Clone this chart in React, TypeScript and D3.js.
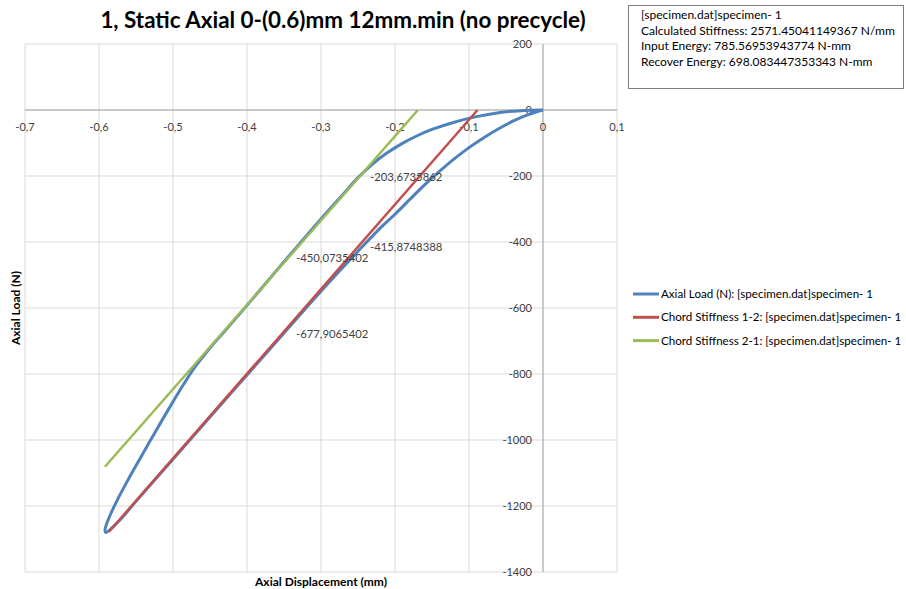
import React, { useEffect, useRef } from 'react'
import * as d3 from 'd3'

// axis ticks
const xTickValues = [-0.7, -0.6, -0.5, -0.4, -0.3, -0.2, -0.1, 0, 0.1]
const yTickValues = [200, 0, -200, -400, -600, -800, -1000, -1200, -1400]

// blue hysteresis loop, loading branch (0 -> tip)
const loadDisp = [0, -0.02, -0.04, -0.06, -0.08, -0.1, -0.12, -0.14, -0.16, -0.18, -0.2, -0.22, -0.25, -0.3, -0.35, -0.4, -0.45, -0.5, -0.55, -0.575, -0.591]
const loadForce = [0, -14, -33, -57, -84, -114, -148, -186, -227, -271, -316, -358, -428, -549, -676, -803, -930, -1058, -1186, -1250, -1280]

// unloading branch (tip -> 0)
const unloadDisp = [-0.592, -0.59, -0.585, -0.576, -0.563, -0.545, -0.522, -0.5, -0.485, -0.47, -0.455, -0.44, -0.43, -0.4, -0.35, -0.3, -0.27, -0.25, -0.23, -0.21, -0.19, -0.17, -0.15, -0.12, -0.09, -0.06, -0.03, 0]
const unloadForce = [-1274, -1256, -1228, -1185, -1130, -1058, -968, -884, -829, -778, -735, -695, -670, -592, -460, -330, -255, -205, -163, -129, -101, -78, -59, -37, -20, -8, -2, 0]

// chord stiffness lines (end points)
const chord12Disp = [-0.0885, -0.5865]
const chord12Force = [0, -1278]
const chord21Disp = [-0.169, -0.592]
const chord21Force = [0, -1081]

// data labels on chord lines
const labelDisp = [-0.25, -0.25, -0.35, -0.35]
const labelForce = [-203.6735862, -415.8748388, -450.0735402, -677.9065402]
const labelText = ['-203,6735862', '-415,8748388', '-450,0735402', '-677,9065402']

const infoLines = [
  '[specimen.dat]specimen- 1',
  'Calculated Stiffness: 2571.45041149367 N/mm',
  'Input Energy: 785.56953943774 N-mm',
  'Recover Energy: 698.083447353343 N-mm',
]

const legendNames = [
  'Axial Load (N): [specimen.dat]specimen- 1',
  'Chord Stiffness 1-2: [specimen.dat]specimen- 1',
  'Chord Stiffness 2-1: [specimen.dat]specimen- 1',
]
const colors = ['#4F81BD', '#C0504D', '#9BBB59']

const App = () => {
  const svgRef = useRef<SVGSVGElement>(null)
  const width = 906
  const height = 589
  const font = 'Lato, "Noto Sans", sans-serif'

  const drawChart = () => {
    const svg = d3.select(svgRef.current)
    svg.selectAll('*').remove()
    svg.style('font-family', font)

    const x = d3.scaleLinear().domain([-0.7, 0.1]).range([25, 617])
    const y = d3.scaleLinear().domain([-1400, 200]).range([572, 44])
    const comma = (v: number) => String(v).replace('.', ',')

    // title
    svg
      .append('text')
      .attr('x', 343)
      .attr('y', 28)
      .attr('text-anchor', 'middle')
      .attr('font-size', 22.4)
      .attr('font-weight', 'bold')
      .attr('fill', '#000')
      .text('1, Static Axial 0-(0.6)mm 12mm.min (no precycle)')

    // gridlines
    const grid = svg.append('g').attr('stroke', '#d9d9d9').attr('stroke-width', 1)
    grid
      .selectAll('line.vx')
      .data(xTickValues)
      .join('line')
      .attr('x1', (d) => x(d))
      .attr('x2', (d) => x(d))
      .attr('y1', y(200))
      .attr('y2', y(-1400))
    grid
      .selectAll('line.hy')
      .data(yTickValues)
      .join('line')
      .attr('class', 'hy')
      .attr('x1', x(-0.7))
      .attr('x2', x(0.1))
      .attr('y1', (d) => y(d))
      .attr('y2', (d) => y(d))

    // axis lines through zero
    const axes = svg.append('g').attr('stroke', '#a6a6a6').attr('stroke-width', 1)
    axes.append('line').attr('x1', x(-0.7)).attr('x2', x(0.1)).attr('y1', y(0)).attr('y2', y(0))
    axes.append('line').attr('x1', x(0)).attr('x2', x(0)).attr('y1', y(200)).attr('y2', y(-1400))

    // tick labels
    svg
      .append('g')
      .attr('font-size', 11)
      .attr('fill', '#404040')
      .attr('text-anchor', 'middle')
      .selectAll('text')
      .data(xTickValues)
      .join('text')
      .attr('x', (d) => x(d))
      .attr('y', y(0) + 21)
      .text((d) => comma(d))
    svg
      .append('g')
      .attr('font-size', 11)
      .attr('fill', '#404040')
      .attr('text-anchor', 'end')
      .selectAll('text')
      .data(yTickValues)
      .join('text')
      .attr('x', x(0) - 11)
      .attr('y', (d) => y(d))
      .attr('dy', '0.35em')
      .text((d) => String(d))

    // series
    const line = d3
      .line<[number, number]>()
      .x((d) => x(d[0]))
      .y((d) => y(d[1]))

    const loop: [number, number][] = [
      ...loadDisp.map((d, i) => [d, loadForce[i]] as [number, number]),
      ...unloadDisp.map((d, i) => [d, unloadForce[i]] as [number, number]),
    ]
    svg
      .append('path')
      .attr('d', line.curve(d3.curveCatmullRom)(loop))
      .attr('fill', 'none')
      .attr('stroke', colors[0])
      .attr('stroke-width', 3)
      .attr('stroke-linejoin', 'round')

    const straight = d3
      .line<[number, number]>()
      .x((d) => x(d[0]))
      .y((d) => y(d[1]))
    svg
      .append('path')
      .attr('d', straight(chord12Disp.map((d, i) => [d, chord12Force[i]] as [number, number])))
      .attr('fill', 'none')
      .attr('stroke', colors[1])
      .attr('stroke-width', 2.5)
    svg
      .append('path')
      .attr('d', straight(chord21Disp.map((d, i) => [d, chord21Force[i]] as [number, number])))
      .attr('fill', 'none')
      .attr('stroke', colors[2])
      .attr('stroke-width', 2.5)

    // data labels
    svg
      .append('g')
      .attr('font-size', 11.3)
      .attr('fill', '#404040')
      .selectAll('text')
      .data(labelDisp)
      .join('text')
      .attr('x', (d) => x(d) + 12)
      .attr('y', (d, i) => y(labelForce[i]))
      .attr('dy', '0.35em')
      .text((d, i) => labelText[i])

    // axis titles
    svg
      .append('text')
      .attr('x', 321)
      .attr('y', 586)
      .attr('text-anchor', 'middle')
      .attr('font-size', 12)
      .attr('font-weight', 'bold')
      .attr('fill', '#000')
      .text('Axial Displacement (mm)')
    svg
      .append('text')
      .attr('transform', 'translate(20,308) rotate(-90)')
      .attr('text-anchor', 'middle')
      .attr('font-size', 12)
      .attr('font-weight', 'bold')
      .attr('fill', '#000')
      .text('Axial Load (N)')

    // info box
    svg
      .append('rect')
      .attr('x', 628.5)
      .attr('y', 5.5)
      .attr('width', 275)
      .attr('height', 83)
      .attr('fill', '#fff')
      .attr('stroke', '#7f7f7f')
    svg
      .append('g')
      .attr('font-size', 12)
      .attr('fill', '#000')
      .selectAll('text')
      .data(infoLines)
      .join('text')
      .attr('x', 641)
      .attr('y', (d, i) => 15 + i * 15.6)
      .attr('dy', '0.35em')
      .text((d) => d)

    // legend
    const legend = svg
      .append('g')
      .selectAll('g')
      .data(legendNames)
      .join('g')
      .attr('transform', (d, i) => `translate(633,${294 + i * 23.3})`)
    legend
      .append('line')
      .attr('x1', 0)
      .attr('x2', 26)
      .attr('stroke', (d, i) => colors[i])
      .attr('stroke-width', 3)
    legend
      .append('text')
      .attr('x', 28)
      .attr('dy', '0.35em')
      .attr('font-size', 11.6)
      .attr('fill', '#000')
      .text((d) => d)
  }

  useEffect(() => {
    drawChart()
  }, [])

  return (
    <div id='chart' style={{ position: 'absolute', left: 0, top: 0 }}>
      <svg ref={svgRef} width={width} height={height} style={{ display: 'block', background: '#fff' }}></svg>
    </div>
  )
}

export default App
